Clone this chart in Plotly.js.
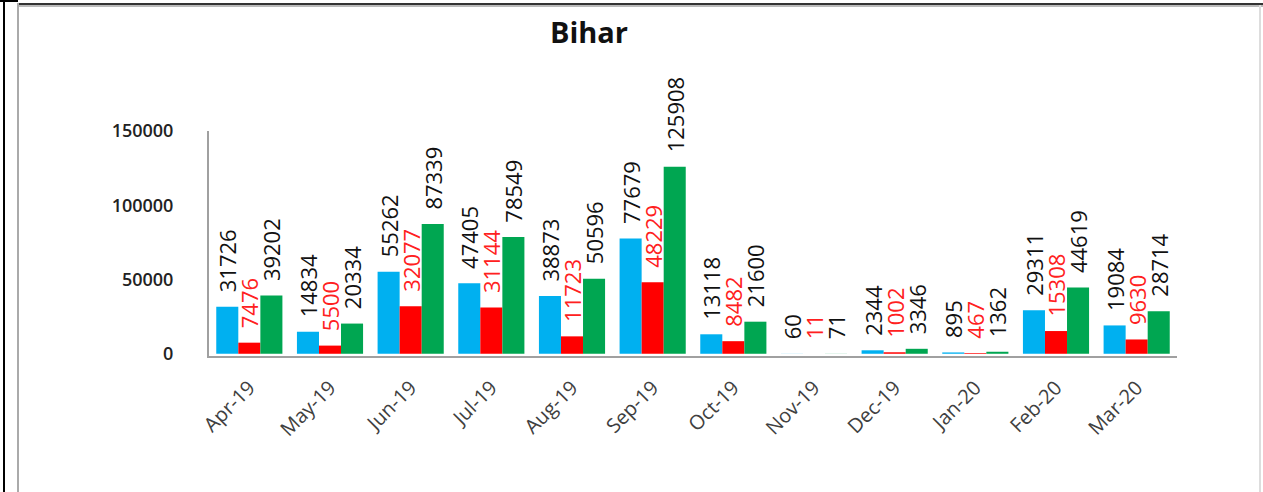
<!DOCTYPE html>
<html>
<head>
<meta charset="utf-8">
<script src="https://cdn.plot.ly/plotly-3.0.1.min.js"></script>
<style>
html,body{margin:0;padding:0;background:#fff;}
#wrap{position:relative;width:1263px;height:492px;overflow:hidden;}
#chart{position:absolute;left:0;top:0;width:1263px;height:492px;}
.fr{position:absolute;pointer-events:none;}
</style>
</head>
<body>
<div id="wrap">
<div id="chart"></div>
<div class="fr" style="left:3px;top:0;width:2px;height:492px;background:#000;"></div>
<div class="fr" style="left:0;top:0;width:18px;height:2px;background:#000;"></div>
<div class="fr" style="left:17px;top:3px;width:1246px;height:2px;background:#333;"></div>
<div class="fr" style="left:17px;top:5px;width:1246px;height:2px;background:#bbb;"></div>
<div class="fr" style="left:17px;top:3px;width:2px;height:489px;background:#aaa;"></div>
<div class="fr" style="left:1259px;top:5px;width:2px;height:487px;background:#ddd;"></div>
</div>
<script>
const categories = ["Apr-19","May-19","Jun-19","Jul-19","Aug-19","Sep-19","Oct-19","Nov-19","Dec-19","Jan-20","Feb-20","Mar-20"];
const seriesBlue  = [31726,14834,55262,47405,38873,77679,13118,60,2344,895,29311,19084];
const seriesRed   = [7476,5500,32077,31144,11723,48229,8482,11,1002,467,15308,9630];
const seriesGreen = [39202,20334,87339,78549,50596,125908,21600,71,3346,1362,44619,28714];
const yTicks = [0,50000,100000,150000];

function mk(vals, color, txtColor){
  return {
    type:'bar', x:categories, y:vals,
    marker:{color:color},
    text:vals.map(v => '\u00A0\u00A0' + String(v)), textposition:'outside', textangle:-90,
    constraintext:'none', cliponaxis:false,
    textfont:{family:'Open Sans, Liberation Sans, sans-serif', size:22, color:txtColor},
    hoverinfo:'skip', showlegend:false
  };
}
const data = [
  mk(seriesBlue,'#00B0F0','#111'),
  mk(seriesRed,'#FF0000','#FF2020'),
  mk(seriesGreen,'#00A651','#111')
];
const layout = {
  width:1263, height:492,
  margin:{l:209, r:86, t:131, b:136},
  paper_bgcolor:'rgba(0,0,0,0)', plot_bgcolor:'rgba(0,0,0,0)',
  bargap:0.18, bargroupgap:0, barmode:'group',
  title:{text:'<b>Bihar</b>', font:{family:'Open Sans, sans-serif', size:29, color:'#111'},
         x:589/1263, xref:'container', xanchor:'center', y:1-33/492, yref:'container', yanchor:'middle'},
  xaxis:{type:'category', tickangle:-45, showline:true, linecolor:'#a0a0a0', linewidth:2,
         ticks:'', ticklabelstandoff:10, tickfont:{family:'Open Sans, sans-serif', size:20, color:'#404040'}, showgrid:false},
  yaxis:{range:[-1500,150000], tickvals:yTicks, ticktext:yTicks.map(String), showline:true, linecolor:'#a0a0a0', linewidth:2,
         showgrid:false, zeroline:false, ticks:'', ticklabelstandoff:30,
         tickfont:{family:'Open Sans, sans-serif', size:18, color:'#222', weight:600}}
};
Plotly.newPlot('chart', data, layout, {displayModeBar:false, staticPlot:true});
</script>
</body>
</html>
